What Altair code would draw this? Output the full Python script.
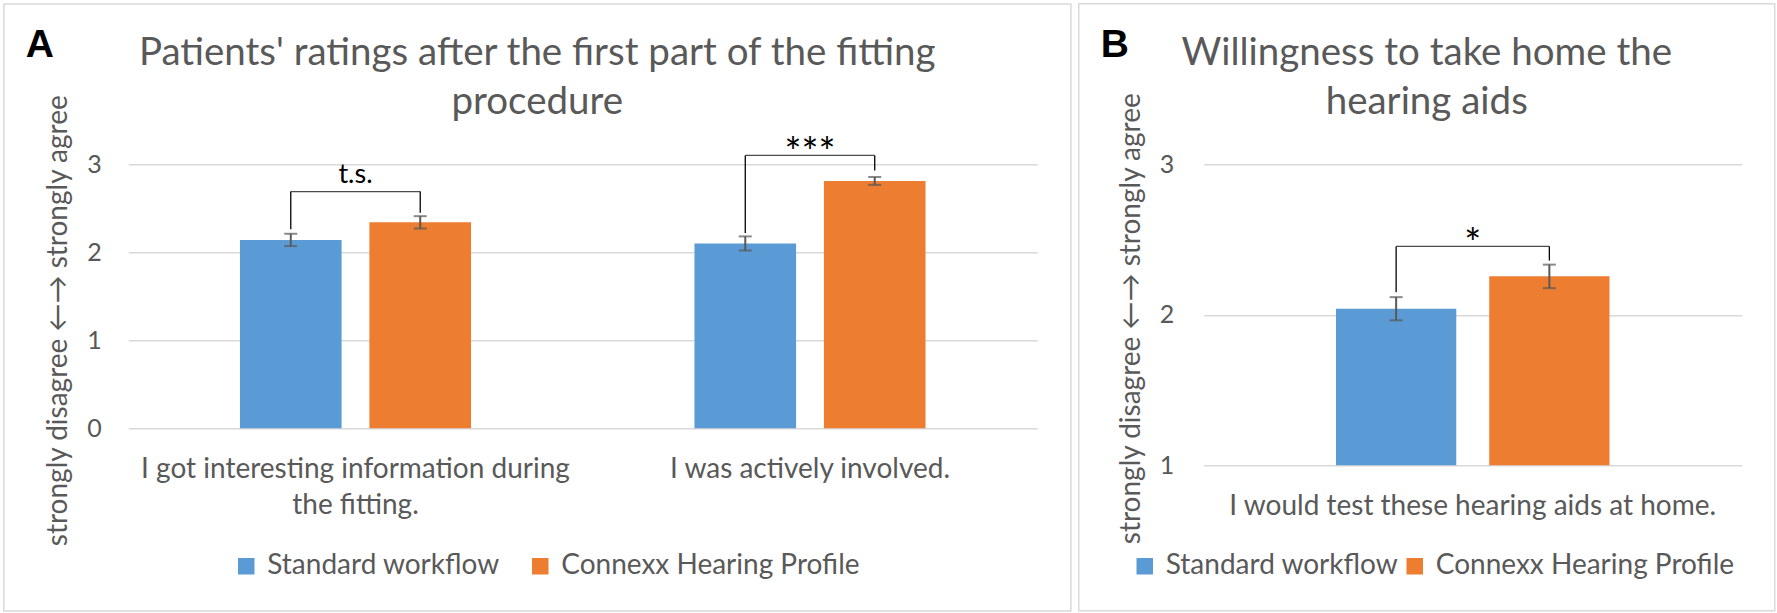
import json
import altair as alt
import pandas as pd

# ---------------- data ----------------
GROUPS = ["Standard workflow", "Connexx Hearing Profile"]
COLORS = ["#5b9bd5", "#ed7d31"]
Y_TITLE = "strongly disagree \u2190\u2192 strongly agree"

A_TITLE = "Patients' ratings after the first part of the fitting\nprocedure"
A_CATS = ["I got interesting information during the fitting.", "I was actively involved."]
A_LABEL_LINES = [["I got interesting information during", "the fitting."], ["I was actively involved."]]
A_STD = [2.14, 2.10]
A_STD_ERR = [0.07, 0.08]
A_CHP = [2.34, 2.81]
A_CHP_ERR = [0.07, 0.045]
A_BRACKET_TOP = [2.69, 3.10]
A_LEG_STD = [2.26, 2.22]
A_LEG_CHP = [2.45, 2.93]
A_SIG = ["t.s.", "***"]
A_TICKS = [0, 1, 2, 3]

B_TITLE = "Willingness to take home the\nhearing aids"
B_CATS = ["I would test these hearing aids at home."]
B_LABEL_LINES = [["I would test these hearing aids at home."]]
B_STD = [2.04]
B_STD_ERR = [0.077]
B_CHP = [2.255]
B_CHP_ERR = [0.078]
B_BRACKET_TOP = [2.454]
B_LEG_STD = [2.15]
B_LEG_CHP = [2.36]
B_SIG = ["*"]
B_TICKS = [1, 2, 3]

FONT = "Lato"
GREY = "#595959"
PAD_IN = 0.215
PAD_OUT = 0.863


def label_expr(cats, lines):
    parts = []
    for c, l in zip(cats, lines):
        if len(l) > 1:
            parts.append(f"datum.value === {json.dumps(c)} ? {json.dumps(l)} : ")
    return "".join(parts) + "datum.label"


def panel(letter, title, cats, lines, std, std_err, chp, chp_err, top, leg_std, leg_chp, sig, ticks, g):
    rows = []
    for i, c in enumerate(cats):
        for grp, v, e, lg in ((GROUPS[0], std[i], std_err[i], leg_std[i]), (GROUPS[1], chp[i], chp_err[i], leg_chp[i])):
            rows.append({"cat": c, "group": grp, "value": v, "lo": v - e, "hi": v + e, "leg": lg, "top": top[i]})
    df = pd.DataFrame(rows)
    br = pd.DataFrame({"cat": cats, "top": top, "sig": sig})

    W, H = g["w"], g["h"]
    band = W / len(cats)
    step = band / (2 - PAD_IN + 2 * PAD_OUT)

    yscale = alt.Scale(domain=[ticks[0], ticks[-1]], nice=False, zero=False)
    xscale = alt.Scale(domain=cats, paddingInner=0, paddingOuter=0)
    xaxis = alt.Axis(title=None, labelAngle=0, domain=False, ticks=False, grid=False,
                     labelFont=FONT, labelFontSize=g["xfs"], labelColor=GREY,
                     labelPadding=g["xlabpad"], labelLineHeight=g["xlh"], labelLimit=700,
                     labelExpr=label_expr(cats, lines))
    yaxis = alt.Axis(values=ticks, labelExpr="toString(datum.value)", labelOverlap=False,
                     title=Y_TITLE, grid=True, gridColor="#d9d9d9", gridWidth=1.5,
                     domain=False, ticks=False, labelFont=FONT, labelFontSize=25, labelColor=GREY,
                     labelPadding=g["ylabpad"], titleFont=FONT, titleFontSize=g["ytfs"],
                     titleFontWeight="normal", titleColor=GREY, titleX=g["ytx"], titleY=g["yty"],
                     titleAlign="center", titleBaseline="middle", titleAngle=270)

    def X():
        return alt.X("cat:N", sort=cats, scale=xscale, axis=xaxis)

    def Y(field):
        return alt.Y(field, scale=yscale, axis=yaxis)

    xoff = alt.XOffset("group:N", sort=GROUPS,
                       scale=alt.Scale(domain=GROUPS, paddingInner=PAD_IN, paddingOuter=PAD_OUT))

    bars = alt.Chart(df).mark_bar().encode(
        x=X(),
        xOffset=xoff,
        y=Y("value:Q"),
        y2=alt.datum(ticks[0]),
        color=alt.Color("group:N", sort=GROUPS, scale=alt.Scale(domain=GROUPS, range=COLORS),
                        legend=alt.Legend(orient="none", legendX=g["lx"], legendY=g["ly"], direction="horizontal",
                                          title=None, symbolType="square", symbolSize=g["symsize"],
                                          symbolStrokeWidth=0,
                                          labelFont=FONT, labelFontSize=g["legfs"], labelColor=GREY,
                                          labelLimit=500, labelOffset=7, columnPadding=g["colpad"], padding=0)),
    )
    err = alt.Chart(df).mark_rule(color=GREY, strokeWidth=2).encode(
        x=X(), xOffset=xoff, y=Y("lo:Q"), y2="hi:Q")
    cap_lo = alt.Chart(df).mark_tick(color=GREY, thickness=2, size=13, orient="horizontal").encode(
        x=X(), xOffset=xoff, y=Y("lo:Q"))
    cap_hi = alt.Chart(df).mark_tick(color=GREY, thickness=2, size=13, orient="horizontal").encode(
        x=X(), xOffset=xoff, y=Y("hi:Q"))
    legs = alt.Chart(df).mark_rule(color="black", strokeWidth=1.3).encode(
        x=X(), xOffset=xoff, y=Y("leg:Q"), y2="top:Q")
    bridge = alt.Chart(br).mark_tick(color="black", thickness=1.3, size=step, orient="horizontal").encode(
        x=X(), y=Y("top:Q"))
    sig_words = alt.Chart(br).transform_filter(alt.datum.sig == "t.s.").mark_text(
        font=FONT, fontSize=27, color="black", baseline="alphabetic", dy=-9).encode(
        x=X(), y=Y("top:Q"), text="sig:N")
    sig_stars = alt.Chart(br).transform_filter(alt.datum.sig != "t.s.").mark_text(
        font=FONT, fontSize=40, color="black", baseline="alphabetic", dy=12).encode(
        x=X(), y=Y("top:Q"), text="sig:N")

    one = pd.DataFrame({"t": [letter], "title": [title]})
    letter_m = alt.Chart(one).mark_text(font="Liberation Sans", fontWeight="bold", fontSize=39, color="black",
                                        align="left", baseline="alphabetic").encode(
        text="t:N", x=alt.value(g["letx"]), y=alt.value(g["lety"]))
    title_m = alt.Chart(one).mark_text(font=FONT, fontSize=g["tfs"], color=GREY, align="center",
                                       baseline="alphabetic", lineBreak="\n", lineHeight=49).encode(
        text="title:N", x=alt.value(g["tx"]), y=alt.value(g["ty"]))
    border = alt.Chart(one).mark_rect(fillOpacity=0, stroke="#d9d9d9", strokeWidth=1.5).encode(
        x=alt.value(g["bx0"]), x2=alt.value(g["bx1"]), y=alt.value(g["by0"]), y2=alt.value(g["by1"]))

    return alt.layer(border, bars, err, cap_lo, cap_hi, legs, bridge, sig_words, sig_stars,
                     letter_m, title_m).properties(width=W, height=H)


gA = dict(w=909, h=264, xlabpad=27, xfs=28, xlh=36, ylabpad=27, ytfs=28, ytx=-70, yty=156, lx=104, ly=388,
          colpad=26, legfs=28, symsize=272, letx=-102.5, lety=-107.3, tx=409, ty=-99, tfs=38.5,
          bx0=-124.4, bx1=942.6, by0=-160.3, by1=446.7)
gB = dict(w=538, h=301, xlabpad=27, xfs=28, xlh=36, ylabpad=30, ytfs=28, ytx=-72, yty=154, lx=-73, ly=388,
          colpad=2, legfs=28, symsize=272, letx=-103, lety=-107.4, tx=223, ty=-99, tfs=38.5,
          bx0=-125, bx1=571, by0=-160.4, by1=446.6)

pA = panel("A", A_TITLE, A_CATS, A_LABEL_LINES, A_STD, A_STD_ERR, A_CHP, A_CHP_ERR, A_BRACKET_TOP,
           A_LEG_STD, A_LEG_CHP, A_SIG, A_TICKS, gA)
pB = panel("B", B_TITLE, B_CATS, B_LABEL_LINES, B_STD, B_STD_ERR, B_CHP, B_CHP_ERR, B_BRACKET_TOP,
           B_LEG_STD, B_LEG_CHP, B_SIG, B_TICKS, gB)

chart = alt.hconcat(pA, pB, spacing=5.5).resolve_scale(color="independent", x="independent", y="independent",
                                                          xOffset="independent").properties(
    padding={"left": 2.25, "top": 2.25, "right": 0, "bottom": 0}, background="white"
).configure_view(strokeWidth=0)

chart.save("out.html", embed_options={"renderer": "svg", "actions": False})
